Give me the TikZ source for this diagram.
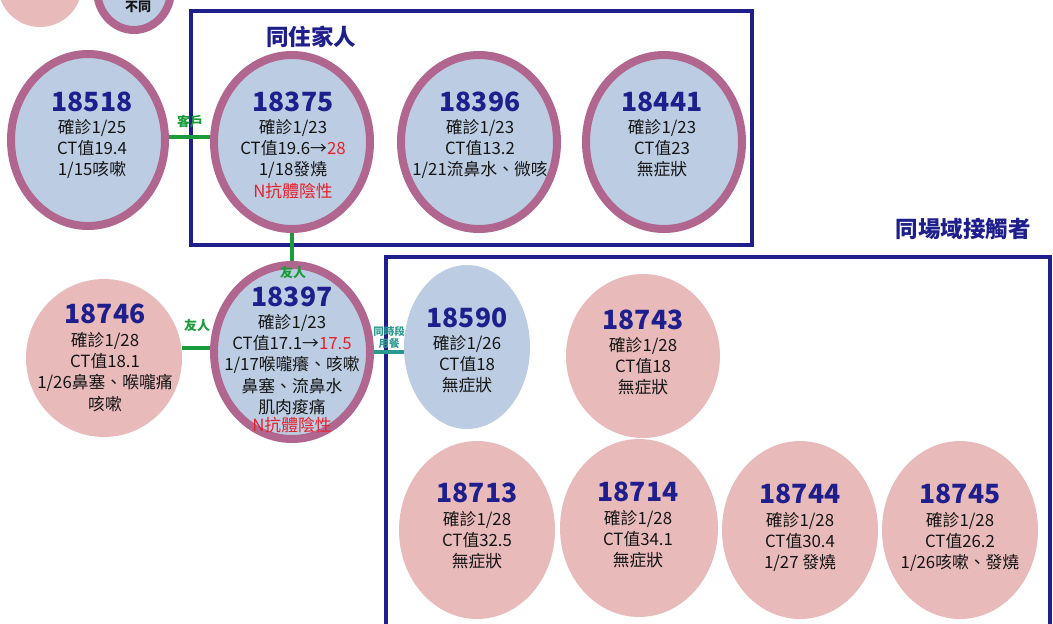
\documentclass[tikz,border=0pt]{standalone}
\usepackage{fontspec}
\setmainfont{Noto Sans CJK TC}
\usetikzlibrary{shapes.geometric}
\definecolor{navy}{HTML}{1E1E8C}
\definecolor{cblue}{HTML}{BCCDE3}
\definecolor{cpink}{HTML}{E9BABA}
\definecolor{mauve}{HTML}{B0668E}
\definecolor{cgreen}{HTML}{1A9C3A}
\definecolor{cteal}{HTML}{2A9A90}
\definecolor{cred}{HTML}{E8202A}
\definecolor{ctext}{HTML}{151515}
\tikzset{
  bluecase/.style={ellipse,fill=cblue,draw=mauve,line width=8pt,inner sep=0pt},
  bluenb/.style={ellipse,fill=cblue,inner sep=0pt},
  pinkcase/.style={ellipse,fill=cpink,inner sep=0pt},
  numtxt/.style={font=\fontsize{26.5}{28}\selectfont\bfseries,text=navy,inner sep=0pt},
  bodytxt/.style={font=\fontsize{16.8}{21.3}\selectfont,text=ctext,align=center,inner sep=0pt,anchor=north},
  boxline/.style={draw=navy,line width=4pt},
  title/.style={font=\fontsize{22.5}{24}\selectfont\bfseries,text=navy,inner sep=0pt},
  gline/.style={draw=cgreen,line width=4pt},
  tline/.style={draw=cteal,line width=4pt},
  glabel/.style={font=\fontsize{13}{14}\selectfont\bfseries,text=cgreen,inner sep=0pt},
  tlabel/.style={font=\fontsize{10.5}{12}\selectfont\bfseries,text=cteal,align=center,inner sep=0pt},
}
\newcommand{\rd}[1]{\textcolor{cred}{#1}}
\begin{document}
\begin{tikzpicture}[x=1pt,y=-1pt]
\useasboundingbox (0,0) rectangle (1053,624);
% partial circles at top-left
\node[pinkcase,minimum width=84pt,minimum height=84pt] (tl1) at (40,-15) {};
\node[bluecase,minimum width=74pt,minimum height=80pt] (tl2) at (134,-10) {};
\node[font=\fontsize{13}{14}\selectfont\bfseries,text=ctext,inner sep=0pt] (tl2t) at (138,7) {不同};
% boxes
\draw[boxline] (191,11) rectangle (752,245);
\draw[boxline] (386,257) rectangle (1050,640);
\node[title] (t1) at (311,37) {同住家人};
\node[title] (t2) at (963,229) {同場域接觸者};
% circles
\node[bluecase,minimum width=154pt,minimum height=172pt] (c18518) at (88,140) {};
\node[bluecase,minimum width=156pt,minimum height=174pt] (c18375) at (292,142) {};
\node[bluecase,minimum width=156pt,minimum height=174pt] (c18396) at (479,142) {};
\node[bluecase,minimum width=156pt,minimum height=174pt] (c18441) at (664,142) {};
\node[pinkcase,minimum width=156pt,minimum height=158pt] (c18746) at (104,358) {};
\node[bluecase,minimum width=156pt,minimum height=174pt] (c18397) at (292,352) {};
\node[bluenb,minimum width=126pt,minimum height=164pt] (c18590) at (467,347) {};
\node[pinkcase,minimum width=154pt,minimum height=164pt] (c18743) at (643,356) {};
\node[pinkcase,minimum width=156pt,minimum height=178pt] (c18713) at (477,530) {};
\node[pinkcase,minimum width=158pt,minimum height=178pt] (c18714) at (639,528) {};
\node[pinkcase,minimum width=156pt,minimum height=178pt] (c18744) at (800,530) {};
\node[pinkcase,minimum width=156pt,minimum height=178pt] (c18745) at (960,530) {};
% connectors
\draw[gline] (c18518.2) -- (c18518.2 -| c18375.west);
\node[glabel] (l1) at (190,122) {客戶};
\draw[gline] (c18375.south) -- (c18397.north);
\node[glabel] (l2) at (293,273) {友人};
\draw[gline] (c18746.7) -- (c18746.7 -| c18397.west);
\node[glabel] (l3) at (197,326) {友人};
\draw[tline] (c18397.east) -- (c18397.east -| c18590.west);
\node[tlabel] (l4) at (389,337) {同時段\\用餐};
% texts
\node[numtxt] at (92,102) {18518};
\node[bodytxt] at (92,119) {確診1/25\\CT值19.4\\1/15咳嗽};
\node[numtxt] at (293,102) {18375};
\node[bodytxt] at (293,119) {確診1/23\\CT值19.6→\rd{28}\\1/18發燒\\\rd{N抗體陰性}};
\node[numtxt] at (480,102) {18396};
\node[bodytxt] at (480,119) {確診1/23\\CT值13.2\\1/21流鼻水、微咳};
\node[numtxt] at (662,102) {18441};
\node[bodytxt] at (662,119) {確診1/23\\CT值23\\無症狀};
\node[numtxt] at (105,314) {18746};
\node[bodytxt] at (105,332) {確診1/28\\CT值18.1\\1/26鼻塞、喉嚨痛\\咳嗽};
\node[numtxt] at (292,297) {18397};
\node[bodytxt] at (292,314) {確診1/23\\CT值17.1→\rd{17.5}\\1/17喉嚨癢、咳嗽\\鼻塞、流鼻水\\肌肉痠痛\\[-3pt]\rd{N抗體陰性}};
\node[numtxt] at (467,318) {18590};
\node[bodytxt] at (467,335) {確診1/26\\CT值18\\無症狀};
\node[numtxt] at (643,320) {18743};
\node[bodytxt] at (643,337) {確診1/28\\CT值18\\無症狀};
\node[numtxt] at (477,493) {18713};
\node[bodytxt] at (477,511) {確診1/28\\CT值32.5\\無症狀};
\node[numtxt] at (638,492) {18714};
\node[bodytxt] at (638,510) {確診1/28\\CT值34.1\\無症狀};
\node[numtxt] at (800,494) {18744};
\node[bodytxt] at (800,512) {確診1/28\\CT值30.4\\1/27 發燒};
\node[numtxt] at (960,494) {18745};
\node[bodytxt] at (960,512) {確診1/28\\CT值26.2\\1/26咳嗽、發燒};
\end{tikzpicture}
\end{document}
